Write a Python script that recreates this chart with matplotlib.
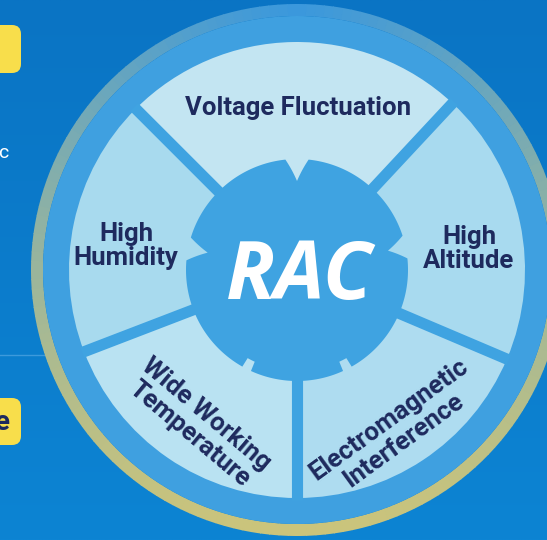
import numpy as np
import matplotlib.pyplot as plt
from matplotlib.patches import Wedge, Polygon, FancyBboxPatch
from matplotlib.colors import to_rgb

W, H = 547, 540  # canvas in pixels

# segment labels, going round the wheel
labels = ["Voltage Fluctuation", "High\nAltitude", "Electromagnetic\nInterference",
          "Wide Working\nTemperature", "High\nHumidity"]
# sector edges in degrees (counter-clockwise from east)
start_deg = [47, 337, 270, 201, 135]
end_deg = [135, 47, 337, 270, 201]
sector_colors = ["#c3e5f2", "#a8daef", "#aedcf0", "#b9e2f2", "#a8daee"]
center_text = "RAC"
side_texts = ["c", "e"]

# layout (pixel coords, y from top)
label_xy = [(298, 108), (469, 249), (396, 430), (198, 424), (126, 246)]
label_rot = [0, 0, 36, -40, 0]
cx, cy = 297, 270
r_disk, r_ring, r_outer = 228, 254, 266

fig = plt.figure(figsize=(W / 100, H / 100), dpi=100)
ax = fig.add_axes([0, 0, 1, 1])
ax.set_xlim(0, W)
ax.set_ylim(0, H)
ax.axis("off")

def fy(y):
    return H - y

# background gradient
top, bot = np.array(to_rgb("#0a74c4")), np.array(to_rgb("#0d84d3"))
t = np.linspace(0, 1, 200)[:, None]
grad = (top * (1 - t) + bot * t)[:, None, :].repeat(2, axis=1)
ax.imshow(grad, extent=[0, W, 0, H], aspect="auto", zorder=0)

# left side bits
ax.plot([0, 60], [fy(355), fy(355)], color="#4aa2e0", lw=1, alpha=0.8, zorder=1)
for y0, y1 in [(25, 73), (398, 445)]:
    ax.add_patch(FancyBboxPatch((-30, fy(y1)), 51, y1 - y0, boxstyle="round,pad=0,rounding_size=9",
                                fc="#f8de4b", ec="none", zorder=1))
ax.text(8, fy(153), side_texts[0], color="white", fontsize=14, family="Roboto",
        ha="right", va="center", zorder=2)
ax.text(9, fy(422), side_texts[1], color="#1e2a5e", fontsize=20, family="Roboto",
        weight="bold", ha="right", va="center", zorder=2)

# outer ring, yellow at the bottom fading to blue on top
yel, blu = np.array(to_rgb("#cbc47b")), np.array(to_rgb("#3b98dc"))
for a in np.arange(0, 360, 2):
    f = ((1 - np.sin(np.radians(a + 1))) / 2) ** 0.6
    ax.add_patch(Wedge((cx, fy(cy)), r_outer, a, a + 2.2, width=r_outer - r_ring,
                       fc=yel * f + blu * (1 - f), ec="none", zorder=2))
ax.add_patch(Wedge((cx, fy(cy)), r_ring, 0, 360, fc="#3fa0e0", ec="none", zorder=3))

# light sectors
for s, e, c in zip(start_deg, end_deg, sector_colors):
    ax.add_patch(Wedge((cx, fy(cy)), r_disk, s, e, fc=c, ec="none", zorder=4))

# spokes
for s in start_deg:
    a = np.radians(s)
    ax.plot([cx, cx + (r_disk + 2) * np.cos(a)], [fy(cy), fy(cy) + (r_disk + 2) * np.sin(a)],
            color="#3fa3e1", lw=8, solid_capstyle="butt", zorder=5)

# centre gear
th = np.linspace(0, 360, 1441)
r = np.full_like(th, 111.0)
for c, w, d in [(90, 6, 22), (169, 6, 20), (12, 6, 18)]:
    dist = np.abs((th - c + 180) % 360 - 180)
    r -= d * np.clip(1 - dist / w, 0, 1)
for c in [243, 297]:
    dist = np.abs((th - c + 180) % 360 - 180)
    r[dist < 2.5] -= 10
pts = np.column_stack([cx + r * np.cos(np.radians(th)), fy(cy) + r * np.sin(np.radians(th))])
ax.add_patch(Polygon(pts, closed=True, fc="#3fa3e1", ec="none", zorder=6))

ax.text(cx + 2, fy(278), center_text, color="white", fontsize=58, family="Open Sans",
        weight="bold", style="italic", ha="center", va="center", zorder=7)

for lab, (x, y), rot in zip(labels, label_xy, label_rot):
    ax.text(x, fy(y), lab, color="#1e2a5e", fontsize=18.5, family="Roboto", weight="bold",
            ha="center", va="center", rotation=rot, rotation_mode="anchor",
            linespacing=1.05, zorder=7)

fig.savefig("out.png", dpi=100)
